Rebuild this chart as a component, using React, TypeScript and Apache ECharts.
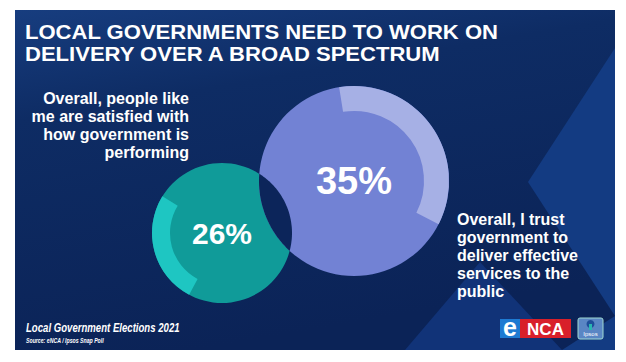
import React, { useEffect, useRef } from "react";
import * as echarts from "echarts";

// ---- data ----
const categories = [
  "Overall, people like me are satisfied with how government is performing",
  "Overall, I trust government to deliver effective services to the public",
];
const values = [26, 35];
const titleLines = ["LOCAL GOVERNMENTS NEED TO WORK ON", "DELIVERY OVER A BROAD SPECTRUM"];
const labelLines = [
  ["Overall, people like", "me are satisfied with", "how government is", "performing"],
  ["Overall, I trust", "government to", "deliver effective", "services to the", "public"],
];
const footerLines = ["Local Government Elections 2021", "Source: eNCA / Ipsos Snap Poll"];

// ---- layout ----
const W = 626;
const H = 362;
const FONT = '"Liberation Sans", Arial, Helvetica, sans-serif';
const BG = "#0c255a";
const bubbles = [
  { cx: 222, cy: 233, r: 70, band: 18, start: 242, body: "#109b99", ring: "#1ec6c2", fs: 30 },
  { cx: 354, cy: 181, r: 95, band: 25, start: 99, body: "#7282d4", ring: "#a6b0e5", fs: 38 },
];

function lensPoints(): number[][] {
  const [a1, b1] = bubbles;
  const dx = b1.cx - a1.cx;
  const dy = b1.cy - a1.cy;
  const d = Math.sqrt(dx * dx + dy * dy);
  const th = Math.atan2(dy, dx);
  const a = (a1.r * a1.r - b1.r * b1.r + d * d) / (2 * d);
  const al1 = Math.acos(a / a1.r);
  const al2 = Math.acos((d - a) / b1.r);
  const pts: number[][] = [];
  const N = 48;
  for (let i = 0; i <= N; i++) {
    const t = -al1 + (2 * al1 * i) / N;
    pts.push([a1.cx + a1.r * Math.cos(th + t), a1.cy + a1.r * Math.sin(th + t)]);
  }
  for (let i = 0; i <= N; i++) {
    const t = Math.PI - al2 + (2 * al2 * i) / N;
    pts.push([b1.cx + b1.r * Math.cos(th + t), b1.cy + b1.r * Math.sin(th + t)]);
  }
  return pts;
}

function textEl(text: string, x: number, y: number, font: string, align: string, extra: any = {}) {
  return {
    type: "text",
    x,
    y,
    z: 20,
    silent: true,
    ...extra,
    style: { text, x: 0, y: 0, fill: "#ffffff", font, align, verticalAlign: "middle" },
  };
}

// multi-line text block: firstCenter = vertical centre of the first line
function blockEl(lines: string[], x: number, firstCenter: number, lh: number, font: string, align: string, extra: any = {}) {
  return {
    type: "text",
    x,
    y: firstCenter - lh / 2,
    z: 20,
    silent: true,
    ...extra,
    style: {
      text: lines.join("\n"),
      x: 0,
      y: 0,
      fill: "#ffffff",
      font,
      lineHeight: lh,
      align,
      verticalAlign: "top",
    },
  };
}

function buildOption(): any {
  const series: any[] = [];
  bubbles.forEach((b, i) => {
    series.push({
      type: "pie",
      silent: true,
      center: [b.cx, b.cy],
      radius: [0, b.r],
      startAngle: 90,
      z: 2,
      data: [{ value: values[i], name: categories[i], itemStyle: { color: b.body } }],
      itemStyle: { borderWidth: 0 },
      label: {
        show: true,
        position: "center",
        formatter: "{c}%",
        color: "#ffffff",
        fontSize: b.fs,
        fontWeight: "bold",
        fontFamily: FONT,
      },
      labelLine: { show: false },
      emphasis: { disabled: true },
    });
    series.push({
      type: "pie",
      silent: true,
      center: [b.cx, b.cy],
      radius: [b.r - b.band, b.r],
      startAngle: b.start,
      clockwise: true,
      z: 3,
      data: [
        { value: values[i], name: categories[i] + " (share)", itemStyle: { color: b.ring } },
        { value: 100 - values[i], name: "rest", itemStyle: { color: "rgba(0,0,0,0)" } },
      ],
      itemStyle: { borderWidth: 0 },
      label: { show: false },
      labelLine: { show: false },
      emphasis: { disabled: true },
    });
  });

  const graphics: any[] = [];
  // background panel
  graphics.push({
    type: "rect",
    z: 0,
    silent: true,
    shape: { x: 15, y: 10, width: 600, height: 340 },
    style: {
      fill: {
        type: "linear",
        x: 0,
        y: 0,
        x2: 0.3,
        y2: 1,
        colorStops: [
          { offset: 0, color: "#173d7f" },
          { offset: 0.3, color: "#0e2c64" },
          { offset: 1, color: "#0b2357" },
        ],
      },
    },
  });
  // decorative lighter shapes
  graphics.push({
    type: "polygon",
    z: 1,
    silent: true,
    shape: { points: [[615, 48], [528, 182], [615, 316]] },
    style: { fill: "#133b82" },
  });
  graphics.push({
    type: "polygon",
    z: 1,
    silent: true,
    shape: { points: [[405, 350], [480, 262], [562, 350]] },
    style: { fill: "#113378" },
  });
  graphics.push({
    type: "polygon",
    z: 1,
    silent: true,
    shape: { points: [[562, 350], [615, 316], [615, 350]] },
    style: { fill: "#133b82" },
  });
  // overlap lens
  graphics.push({
    type: "polygon",
    z: 10,
    silent: true,
    shape: { points: lensPoints() },
    style: { fill: BG },
  });
  // title
  graphics.push(blockEl(titleLines, 25, 32.5, 22, `bold 21px ${FONT}`, "left", { scaleX: 1.05 }));
  // labels
  graphics.push(blockEl(labelLines[0], 189, 99, 17.7, `bold 16px ${FONT}`, "right"));
  graphics.push(blockEl(labelLines[1], 457, 219, 18, `bold 16px ${FONT}`, "left"));
  // footer
  graphics.push(textEl(footerLines[0], 26, 328, `italic bold 12px ${FONT}`, "left", { scaleX: 0.8 }));
  graphics.push(textEl(footerLines[1], 26, 341, `italic bold 6.5px ${FONT}`, "left", { scaleX: 0.8 }));
  // eNCA logo
  graphics.push({ type: "rect", z: 15, silent: true, shape: { x: 500, y: 319, width: 20, height: 19 }, style: { fill: "#1e7ad2" } });
  graphics.push({ type: "rect", z: 15, silent: true, shape: { x: 520, y: 319, width: 51, height: 19 }, style: { fill: "#d8202a" } });
  graphics.push(textEl("e", 510, 326.5, `bold 25px ${FONT}`, "center"));
  graphics.push(textEl("NCA", 545.5, 329, `bold 17px ${FONT}`, "center"));
  // Ipsos logo
  graphics.push({
    type: "rect",
    z: 15,
    silent: true,
    shape: { x: 578, y: 318, width: 25, height: 21, r: 2 },
    style: { fill: "#5a86c4", stroke: "#9fd9d2", lineWidth: 1 },
  });
  graphics.push({ type: "circle", z: 16, silent: true, shape: { cx: 590.5, cy: 324, r: 4 }, style: { fill: "#1f4f9a" } });
  graphics.push({ type: "rect", z: 16, silent: true, shape: { x: 589, y: 324, width: 3, height: 6 }, style: { fill: "#2ab6b0" } });
  graphics.push(textEl("Ipsos", 590.5, 334, `6px ${FONT}`, "center"));

  return {
    animation: false,
    backgroundColor: "#ffffff",
    series,
    graphic: { elements: graphics },
  };
}

export default function App() {
  const ref = useRef<HTMLDivElement>(null);
  useEffect(() => {
    if (!ref.current) return;
    const chart = echarts.init(ref.current, null, { renderer: "svg", width: W, height: H });
    chart.setOption(buildOption());
    return () => chart.dispose();
  }, []);
  return <div ref={ref} style={{ position: "fixed", left: 0, top: 0, width: W, height: H }} />;
}
